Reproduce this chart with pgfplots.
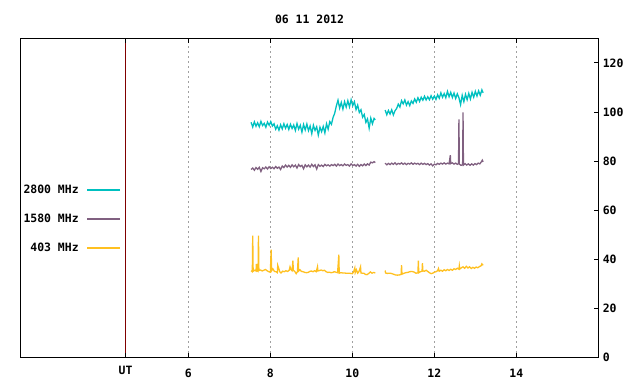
\documentclass[border=0pt]{standalone}
\usepackage{fontspec}
\setmonofont{DejaVu Sans Mono}
\usepackage{pgfplots}
\pgfplotsset{compat=1.18}
\definecolor{cA}{RGB}{0,192,192}
\definecolor{cB}{RGB}{128,96,128}
\definecolor{cC}{RGB}{255,192,32}
\definecolor{utred}{RGB}{128,0,0}
\definecolor{gridgray}{RGB}{160,160,160}
\newcommand\gf{\ttfamily\bfseries\fontsize{11.5}{13}\selectfont}
\begin{document}
\begin{tikzpicture}[x=1bp,y=1bp]
\path[use as bounding box] (0,0) rectangle (640,384);
\begin{axis}[
  at={(20.7bp,26.3bp)}, anchor=south west,
  scale only axis, width=577.6bp, height=319.4bp,
  xmin=1.91, xmax=16, ymin=0, ymax=130,
  axis line style={black, line width=0.9bp},
  xtick={6,8,10,12,14},
  ytick={0,20,40,60,80,100,120},
  ytick pos=right, yticklabel pos=right,
  xtick pos=both, xticklabel pos=bottom,
  tick align=inside, major tick length=4.3bp,
  tick style={black, line width=0.8bp},
  xmajorgrids,
  major grid style={gridgray, line width=0.8bp, dash pattern=on 2bp off 3bp},
  extra x ticks={4.47}, extra x tick labels={UT},
  extra x tick style={xmajorgrids=true, major grid style={solid, utred, line width=1bp}, xticklabel style={yshift=3bp}},
  tick label style={font=\gf},
  /pgf/number format/assume math mode=true,
  xticklabel style={anchor=center, yshift=-16bp},
  yticklabel style={anchor=west, xshift=1bp},
  title={06 11 2012},
  title style={font=\gf, at={(0.5,1)}, anchor=center, yshift=13.3bp},
  unbounded coords=jump,
  legend plot pos=right,
  legend cell align=right,
  legend image code/.code={\draw[#1, line width=1.3bp] (0bp,0bp) -- (32.7bp,0bp);},
  legend style={draw=none, fill=none, font=\gf, inner sep=0pt, outer sep=0pt,
    at={(axis description cs:0.1731,0.434)}, anchor=east,
    row sep=15bp, column sep=6bp},
]
\addplot[cA, line width=1.3bp] coordinates {
(7.53,95.8)(7.57,93.9)(7.61,96.0)(7.65,94.2)(7.69,95.6)(7.73,94.0)(7.77,96.2)(7.81,94.5)(7.85,95.4)(7.89,93.8)
(7.93,95.9)(7.97,94.6)(8.01,96.1)(8.05,94.3)(8.09,95.2)(8.13,93.0)(8.17,94.4)(8.21,92.6)(8.25,94.8)(8.29,93.1)
(8.33,95.2)(8.37,93.4)(8.41,94.9)(8.45,92.9)(8.49,95.0)(8.53,93.3)(8.57,94.7)(8.61,92.5)(8.65,95.3)(8.69,93.0)
(8.73,94.6)(8.77,91.8)(8.81,94.9)(8.85,92.7)(8.89,95.1)(8.93,92.4)(8.97,94.3)(9.01,91.2)(9.05,94.6)(9.09,92.5)
(9.13,94.0)(9.17,90.6)(9.21,93.8)(9.25,92.0)(9.29,94.1)(9.33,91.5)(9.37,95.2)(9.41,93.0)(9.45,96.1)(9.49,95.0)
(9.53,97.8)(9.57,99.5)(9.61,102.5)(9.65,104.8)(9.69,101.6)(9.73,103.9)(9.77,101.2)(9.81,104.2)(9.85,102.0)(9.89,104.6)
(9.93,102.1)(9.97,105.0)(10.01,102.6)(10.05,104.2)(10.09,101.0)(10.13,102.8)(10.17,99.8)(10.21,100.9)(10.25,97.9)(10.29,99.0)
(10.33,95.8)(10.37,97.2)(10.41,93.4)(10.45,97.5)(10.49,95.2)(10.53,97.4)(10.56,96.8)
(10.7,nan)
(10.80,100.8)(10.84,98.9)(10.88,100.6)(10.92,99.2)(10.96,100.9)(11.00,98.8)(11.04,100.5)(11.08,101.4)(11.12,103.2)(11.16,102.0)
(11.20,104.6)(11.24,103.3)(11.28,104.9)(11.32,102.8)(11.36,104.2)(11.40,102.6)(11.44,104.5)(11.48,103.5)(11.52,105.3)(11.56,104.0)
(11.60,105.8)(11.64,104.3)(11.68,106.0)(11.72,104.8)(11.76,106.4)(11.80,104.9)(11.84,106.2)(11.88,105.0)(11.92,106.6)(11.96,105.2)
(12.00,106.5)(12.04,105.1)(12.08,107.0)(12.12,105.6)(12.16,107.8)(12.20,106.0)(12.24,107.5)(12.28,105.8)(12.32,108.4)(12.36,106.2)
(12.40,108.0)(12.44,105.9)(12.48,107.7)(12.52,105.5)(12.56,107.4)(12.60,105.8)(12.64,103.0)(12.68,106.8)(12.72,104.2)(12.76,107.2)
(12.80,105.0)(12.84,107.6)(12.88,105.3)(12.92,108.0)(12.96,106.0)(13.00,108.4)(13.04,106.5)(13.08,108.6)(13.12,106.8)(13.16,109.0)
(13.19,107.8)
};
\addlegendentry{2800 MHz}
\addplot[cB, line width=1.3bp] coordinates {
(7.53,76.6)(7.57,77.2)(7.61,76.3)(7.65,77.4)(7.69,76.7)(7.73,77.5)(7.77,75.8)(7.81,77.3)(7.85,76.9)(7.89,77.6)
(7.93,76.8)(7.97,77.7)(8.01,77.0)(8.05,77.5)(8.09,76.9)(8.13,77.8)(8.17,77.1)(8.21,77.6)(8.25,76.6)(8.29,78.0)
(8.33,77.4)(8.37,78.4)(8.41,77.6)(8.45,78.3)(8.49,77.5)(8.53,78.5)(8.57,77.7)(8.61,78.4)(8.65,77.2)(8.69,78.6)
(8.73,77.8)(8.77,78.3)(8.81,76.9)(8.85,78.5)(8.89,77.7)(8.93,78.4)(8.97,77.6)(9.01,78.7)(9.05,77.8)(9.09,78.5)
(9.13,76.8)(9.17,78.6)(9.21,77.9)(9.25,78.4)(9.29,77.8)(9.33,78.7)(9.37,78.1)(9.41,78.5)(9.45,78.0)(9.49,78.6)
(9.53,78.2)(9.57,78.7)(9.61,78.0)(9.65,78.8)(9.69,78.2)(9.73,78.6)(9.77,78.1)(9.81,78.8)(9.85,78.3)(9.89,78.6)
(9.93,78.0)(9.97,78.9)(10.01,78.2)(10.05,78.6)(10.09,78.0)(10.13,78.7)(10.17,77.9)(10.21,78.6)(10.25,78.1)(10.29,78.8)
(10.33,78.2)(10.37,78.9)(10.41,78.4)(10.45,79.6)(10.49,79.3)(10.53,79.8)(10.56,79.4)
(10.7,nan)
(10.80,79.2)(10.84,78.5)(10.88,79.1)(10.92,78.6)(10.96,79.2)(11.00,78.7)(11.04,79.3)(11.08,78.6)(11.12,79.1)(11.16,78.8)
(11.20,79.3)(11.24,78.7)(11.28,79.2)(11.32,78.6)(11.36,79.1)(11.40,78.8)(11.44,79.3)(11.48,78.7)(11.52,79.2)(11.56,78.8)
(11.60,79.1)(11.64,78.6)(11.68,79.2)(11.72,78.7)(11.76,79.1)(11.80,78.6)(11.84,79.0)(11.88,78.4)(11.92,78.9)(11.96,78.1)
(12.00,78.8)(12.04,78.5)(12.08,79.1)(12.12,78.7)(12.16,79.2)(12.20,78.8)(12.24,79.3)(12.28,78.8)(12.32,79.2)(12.36,78.9)
(12.39,82.4)(12.40,79.0)(12.44,79.3)(12.48,78.8)(12.52,79.2)(12.56,78.7)(12.59,79.0)(12.60,97.0)(12.61,78.8)(12.65,78.3)
(12.69,78.5)(12.70,99.8)(12.71,78.4)(12.75,79.0)(12.79,78.4)(12.83,78.9)(12.87,78.3)(12.91,78.9)(12.95,78.4)(12.99,79.0)
(13.03,78.6)(13.07,79.2)(13.11,78.9)(13.15,79.8)(13.17,80.4)(13.19,79.7)
};
\addlegendentry{1580 MHz}
\addplot[cC, line width=1.3bp] coordinates {
(7.53,35.4)(7.56,35.0)(7.57,49.7)(7.58,35.2)(7.62,35.6)(7.65,35.3)(7.66,38.2)(7.67,35.4)(7.70,35.1)(7.71,49.7)
(7.72,35.5)(7.76,35.7)(7.80,35.3)(7.84,35.6)(7.88,35.9)(7.92,35.4)(7.96,35.0)(8.00,34.8)(8.02,44.0)(8.03,35.4)
(8.06,36.2)(8.10,35.1)(8.14,35.0)(8.17,34.6)(8.18,37.6)(8.20,36.6)(8.23,35.0)(8.26,34.5)(8.30,35.2)(8.34,35.0)
(8.38,35.4)(8.42,35.1)(8.46,35.6)(8.48,37.0)(8.50,35.9)(8.53,35.4)(8.55,39.5)(8.56,35.6)(8.60,35.0)(8.63,34.2)
(8.66,35.0)(8.68,40.8)(8.69,35.3)(8.72,35.8)(8.76,35.1)(8.80,35.0)(8.84,34.7)(8.88,34.6)(8.92,34.7)(8.96,35.1)
(9.00,35.3)(9.04,35.0)(9.08,35.4)(9.12,35.0)(9.15,37.0)(9.16,35.3)(9.20,35.5)(9.24,35.7)(9.28,35.4)(9.32,35.6)
(9.36,35.0)(9.40,34.7)(9.44,34.8)(9.48,34.6)(9.52,34.7)(9.56,35.0)(9.60,34.8)(9.64,34.6)(9.67,41.9)(9.68,34.4)
(9.72,34.6)(9.76,34.5)(9.80,34.5)(9.84,34.4)(9.88,34.4)(9.92,34.4)(9.96,34.3)(10.00,34.2)(10.03,34.9)(10.06,36.5)
(10.07,34.6)(10.10,35.8)(10.13,34.4)(10.16,35.0)(10.20,37.0)(10.21,34.5)(10.24,34.4)(10.28,34.4)(10.32,33.9)(10.36,33.8)
(10.40,34.3)(10.44,34.9)(10.48,34.4)(10.52,34.7)(10.56,34.5)
(10.7,nan)
(10.80,35.5)(10.81,34.5)(10.85,34.3)(10.90,34.4)(10.95,34.3)(11.00,34.0)(11.05,33.7)(11.10,33.6)(11.15,33.7)(11.19,33.9)
(11.20,37.7)(11.21,34.0)(11.25,34.3)(11.30,34.6)(11.35,34.7)(11.40,35.0)(11.45,35.1)(11.50,34.9)(11.55,34.4)(11.60,34.5)
(11.61,39.5)(11.62,34.6)(11.66,35.0)(11.70,35.2)(11.71,38.5)(11.72,35.3)(11.76,35.2)(11.80,35.6)(11.84,35.1)(11.88,34.6)
(11.92,34.2)(11.96,34.4)(12.00,34.8)(12.04,35.0)(12.08,35.4)(12.10,36.3)(12.12,35.2)(12.16,35.6)(12.20,35.2)(12.24,35.8)
(12.28,35.4)(12.32,35.9)(12.36,35.5)(12.40,36.0)(12.44,35.6)(12.48,36.2)(12.52,35.9)(12.56,36.4)(12.60,36.0)(12.61,37.4)
(12.62,36.1)(12.66,36.6)(12.70,37.0)(12.74,36.4)(12.78,37.2)(12.82,36.5)(12.86,37.0)(12.90,36.3)(12.94,36.8)(12.98,36.4)
(13.02,36.9)(13.06,36.6)(13.10,37.1)(13.14,37.4)(13.16,38.2)(13.19,37.6)
};
\addlegendentry{403 MHz}
\end{axis}
\end{tikzpicture}
\end{document}
